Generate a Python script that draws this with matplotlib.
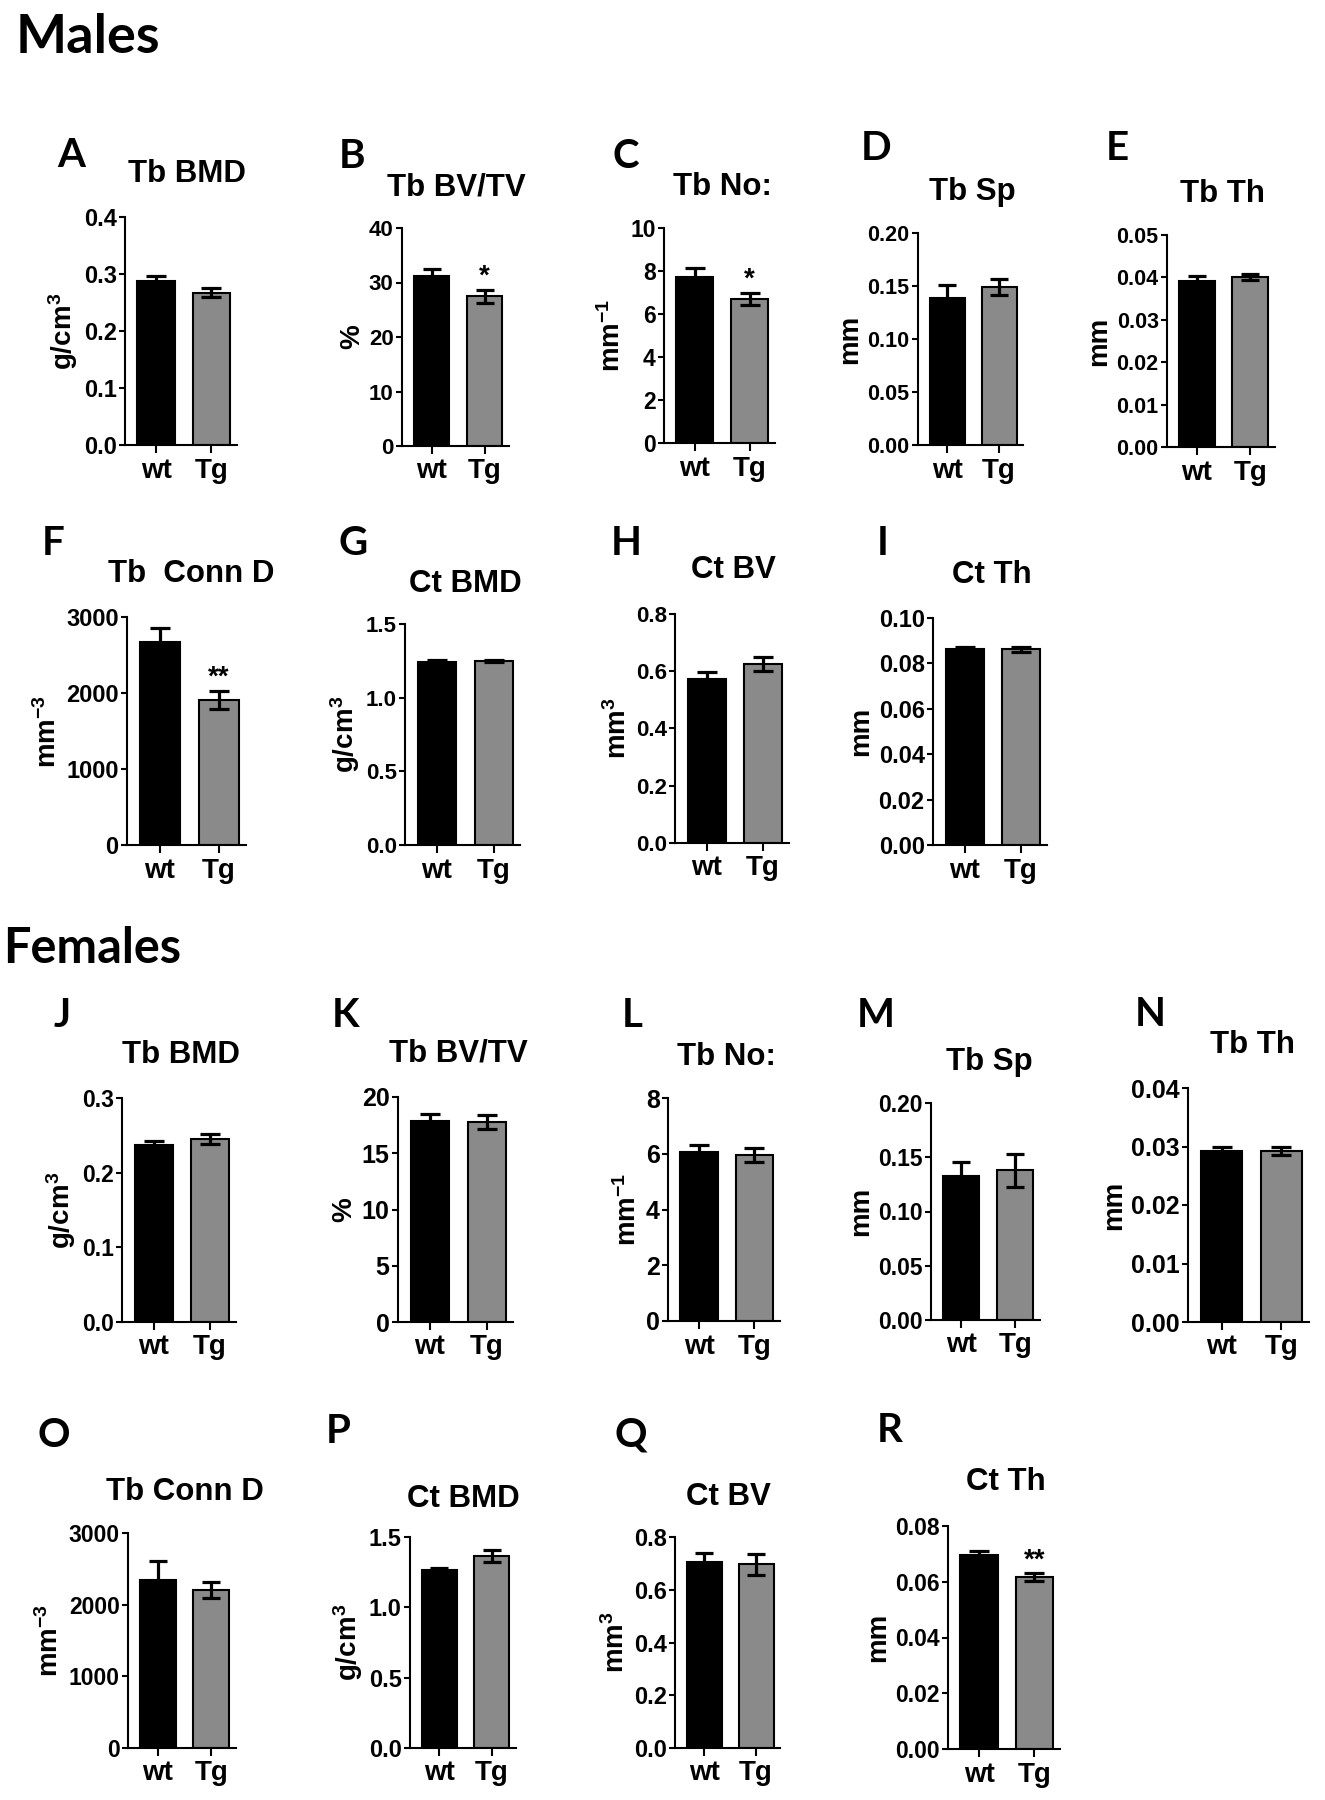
import matplotlib
matplotlib.use('Agg')
import matplotlib.pyplot as plt
import numpy as np

plt.rcParams['mathtext.fontset'] = 'custom'
plt.rcParams['mathtext.rm'] = 'Liberation Sans:bold'
plt.rcParams['mathtext.it'] = 'Liberation Sans:bold'
plt.rcParams['mathtext.bf'] = 'Liberation Sans:bold'
plt.rcParams['mathtext.default'] = 'regular'

W, H = 1325, 1800

# data
panels = list('ABCDEFGHIJKLMNOPQR')
titles = ['Tb BMD', 'Tb BV/TV', 'Tb No:', 'Tb Sp', 'Tb Th', 'Tb  Conn D', 'Ct BMD', 'Ct BV', 'Ct Th',
          'Tb BMD', 'Tb BV/TV', 'Tb No:', 'Tb Sp', 'Tb Th', 'Tb Conn D', 'Ct BMD', 'Ct BV', 'Ct Th']
units = ['g/cm$^3$', '%', 'mm$^{-1}$', 'mm', 'mm', 'mm$^{-3}$', 'g/cm$^3$', 'mm$^3$', 'mm',
         'g/cm$^3$', '%', 'mm$^{-1}$', 'mm', 'mm', 'mm$^{-3}$', 'g/cm$^3$', 'mm$^3$', 'mm']
groups = ['wt', 'Tg']
wt_mean = [0.288, 31.2, 7.72, 0.139, 0.0391, 2670, 1.245, 0.573, 0.0863,
           0.237, 17.9, 6.05, 0.133, 0.0292, 2343, 1.265, 0.705, 0.0695]
wt_sem = [0.009, 1.3, 0.4, 0.012, 0.0012, 185, 0.008, 0.025, 0.001,
          0.005, 0.6, 0.25, 0.013, 0.0008, 265, 0.012, 0.033, 0.0015]
tg_mean = [0.267, 27.5, 6.7, 0.149, 0.0401, 1910, 1.25, 0.626, 0.0862,
           0.245, 17.8, 5.94, 0.138, 0.0292, 2204, 1.365, 0.697, 0.0617]
tg_sem = [0.008, 1.2, 0.28, 0.0075, 0.0007, 118, 0.008, 0.024, 0.0012,
          0.007, 0.6, 0.25, 0.015, 0.0007, 110, 0.045, 0.04, 0.0013]
y_max = [0.4, 40, 10, 0.20, 0.05, 3000, 1.5, 0.8, 0.10,
         0.3, 20, 8, 0.20, 0.04, 3000, 1.5, 0.8, 0.08]
y_step = [0.1, 10, 2, 0.05, 0.01, 1000, 0.5, 0.2, 0.02,
          0.1, 5, 2, 0.05, 0.01, 1000, 0.5, 0.2, 0.02]
y_dec = [1, 0, 0, 2, 2, 0, 1, 1, 2, 1, 0, 0, 2, 2, 0, 1, 1, 2]
stars = ['', '*', '*', '', '', '**', '', '', '', '', '', '', '', '', '', '', '', '**']

# layout in pixels: axes box (left, top, right, bottom), letter (x, baseline), title (x, baseline)
boxes = [(125, 217, 237, 445), (402, 228, 509, 446), (664, 228, 775, 443), (918, 233, 1023, 445),
         (1167, 235, 1275, 447), (127, 617, 246, 845), (405, 624, 520, 845), (675, 614, 789, 843),
         (933, 618, 1047, 845), (122, 1098, 236, 1322), (398, 1097, 513, 1322), (668, 1098, 780, 1321),
         (931, 1103, 1040, 1320), (1188, 1088, 1309, 1322), (128, 1533, 236, 1748), (410, 1537, 516, 1748),
         (675, 1537, 780, 1748), (948, 1526, 1060, 1749)]
letter_xy = [(71, 167), (352, 168), (626, 168), (876, 160), (1117, 160), (53, 555), (353, 555), (626, 555),
             (883, 555), (62, 1027), (346, 1027), (632, 1027), (876, 1027), (1150, 1026), (54, 1447),
             (338, 1443), (631, 1447), (890, 1442)]
title_xy = [(187, 182), (456, 195), (722, 195), (972, 200), (1223, 202), (191, 582), (465, 592), (733, 578),
            (992, 583), (181, 1063), (458, 1062), (726, 1065), (989, 1070), (1252, 1053), (185, 1500),
            (463, 1507), (728, 1505), (1006, 1490)]
ytick_size = [17, 16, 16.5, 15.5, 15.5, 17, 16, 16, 17, 16.5, 18, 18, 16.5, 18, 16.5, 17, 17, 16.5]

XL = (-0.56, 1.46)
BW = 0.67
FONT = 'Liberation Sans'

fig = plt.figure(figsize=(W / 100, H / 100), dpi=100)

fig.text(16 / W, 1 - 53 / H, 'Males', family='Lato', weight='bold', fontsize=39, ha='left', va='baseline')
fig.text(3 / W, 1 - 963 / H, 'Females', family='Lato', weight='bold', fontsize=35, ha='left', va='baseline')

for i, p in enumerate(panels):
    l, t, r, b = boxes[i]
    ax = fig.add_axes([l / W, 1 - b / H, (r - l) / W, (b - t) / H])
    unit_px = (r - l) / (XL[1] - XL[0])
    cap = 0.175 * unit_px * 0.72

    ax.bar(0, wt_mean[i], width=BW, color='black', edgecolor='black', linewidth=1.5, zorder=2)
    ax.bar(1, tg_mean[i], width=BW, color='#8a8a8a', edgecolor='black', linewidth=1.5, zorder=2)
    ax.errorbar([0, 1], [wt_mean[i], tg_mean[i]], yerr=[wt_sem[i], tg_sem[i]], fmt='none',
                ecolor='black', elinewidth=2.3, capsize=cap, capthick=2.3, zorder=3)
    if stars[i]:
        ax.annotate(stars[i], (1, tg_mean[i] + tg_sem[i]), xytext=(0, 0), textcoords='offset points',
                    ha='center', va='bottom', fontsize=20, fontweight='bold', family=FONT)

    ax.set_xlim(*XL)
    ax.set_ylim(0, y_max[i])
    ticks = np.arange(0, y_max[i] + y_step[i] / 2, y_step[i])
    ax.set_yticks(ticks)
    ax.set_yticklabels([f'{v:.{y_dec[i]}f}' for v in ticks], family=FONT, fontweight='bold',
                       fontsize=ytick_size[i])
    ax.set_xticks([0, 1])
    ax.set_xticklabels(groups, family=FONT, fontweight='bold', fontsize=20)
    ax.tick_params(axis='y', length=4, width=1.5, pad=2)
    ax.tick_params(axis='x', length=6, width=1.5, pad=3)
    for s in ['top', 'right']:
        ax.spines[s].set_visible(False)
    for s in ['left', 'bottom']:
        ax.spines[s].set_linewidth(1.5)
    ax.set_ylabel(units[i], family=FONT, fontweight='bold', fontsize=20, labelpad=3)

    fig.text(letter_xy[i][0] / W, 1 - letter_xy[i][1] / H, p, family='Lato', weight='bold', fontsize=29,
             ha='center', va='baseline')
    fig.text(title_xy[i][0] / W, 1 - title_xy[i][1] / H, titles[i], family=FONT,
             weight='bold', fontsize=22.5, ha='center', va='baseline')

fig.savefig('out.png', dpi=100)
